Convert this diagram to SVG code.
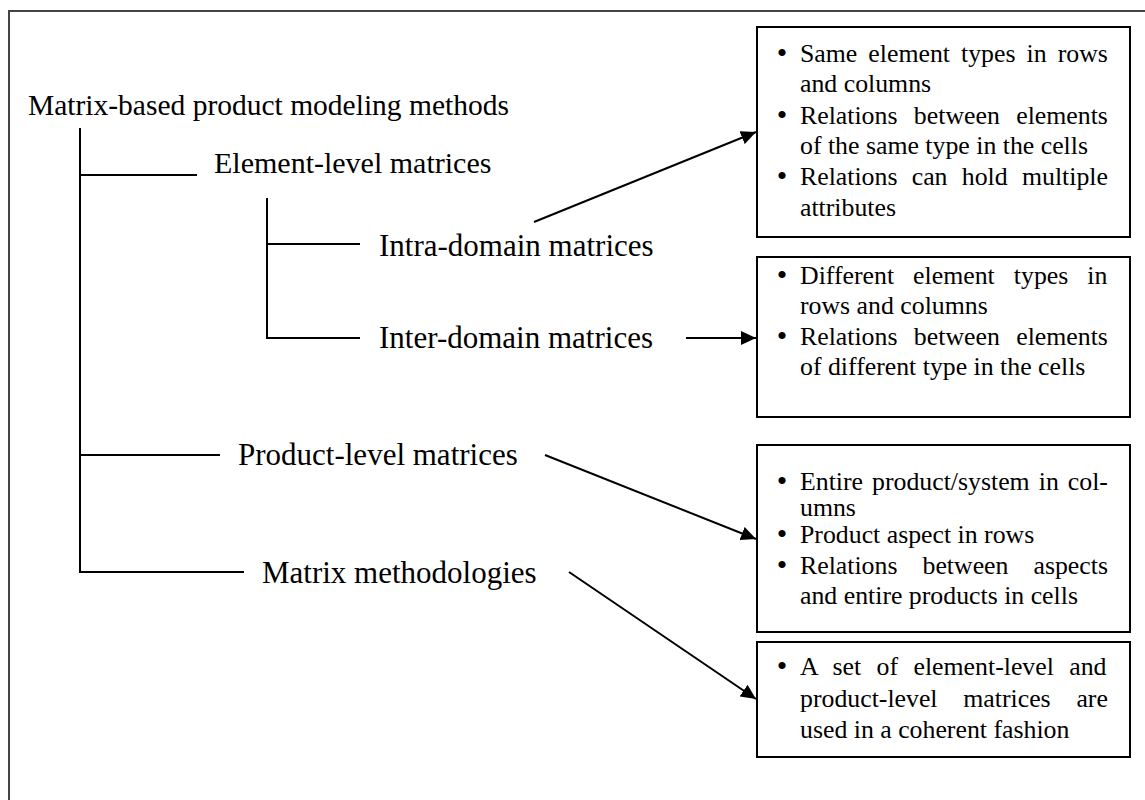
<svg xmlns="http://www.w3.org/2000/svg" width="1145" height="800" viewBox="0 0 1145 800">
  <defs>
    <marker id="arrow" markerUnits="userSpaceOnUse" markerWidth="16" markerHeight="14" refX="15" refY="7" orient="auto">
      <path d="M0,0 L15,7 L0,14 Z" fill="#000"/>
    </marker>
    <style>
      .frame { fill: none; stroke: #444; stroke-width: 2; }
      .tree { fill: none; stroke: #000; stroke-width: 2; }
      .conn { fill: none; stroke: #000; stroke-width: 2; marker-end: url(#arrow); }
      .box { fill: #fff; stroke: #000; stroke-width: 2; }
      .lbl { font-family: "Liberation Serif", "Times New Roman", serif; fill: #000; }
      .big { font-size: 31px; }
      .note { font-size: 25.8px; }
      .dot { font-family: "Liberation Serif", "Times New Roman", serif; font-size: 30px; fill: #000; text-anchor: middle; }
    </style>
  </defs>

  <rect width="1145" height="800" fill="#fff"/>
  <!-- outer page frame, running past the right and bottom edges -->
  <rect class="frame" x="9" y="11" width="1160" height="820"/>

  <!-- tree branches -->
  <g id="tree-lines">
    <line class="tree" x1="80" y1="128" x2="80" y2="573"/>
    <line class="tree" x1="79" y1="175" x2="197" y2="175"/>
    <line class="tree" x1="79" y1="455" x2="220" y2="455"/>
    <line class="tree" x1="79" y1="572" x2="244" y2="572"/>
    <line class="tree" x1="267" y1="198" x2="267" y2="339"/>
    <line class="tree" x1="266" y1="244" x2="360" y2="244"/>
    <line class="tree" x1="266" y1="338" x2="360" y2="338"/>
  </g>

  <g id="root">
    <text class="lbl" x="28" y="115" font-size="29.5">Matrix-based product modeling methods</text>
  </g>
  <g id="element-level">
    <text class="lbl" x="214" y="173" font-size="30">Element-level matrices</text>
  </g>
  <g id="intra-domain">
    <text class="lbl big" x="379" y="256">Intra-domain matrices</text>
  </g>
  <g id="inter-domain">
    <text class="lbl big" x="379" y="348">Inter-domain matrices</text>
  </g>
  <g id="product-level">
    <text class="lbl big" x="238" y="465">Product-level matrices</text>
  </g>
  <g id="methodologies">
    <text class="lbl big" x="262" y="583">Matrix methodologies</text>
  </g>

  <!-- description boxes -->
  <g id="box-intra">
    <rect class="box" x="757" y="27" width="373" height="210"/>
    <text class="dot" x="782" y="63">•</text>
    <text class="lbl note" x="800" y="62" word-spacing="4.6">Same element types in rows</text>
    <text class="lbl note" x="800" y="92">and columns</text>
    <text class="dot" x="782" y="125">•</text>
    <text class="lbl note" x="800" y="124" word-spacing="9.97">Relations between elements</text>
    <text class="lbl note" x="800" y="154">of the same type in the cells</text>
    <text class="dot" x="782" y="186">•</text>
    <text class="lbl note" x="800" y="185" word-spacing="7.83">Relations can hold multiple</text>
    <text class="lbl note" x="800" y="216">attributes</text>
  </g>

  <g id="box-inter">
    <rect class="box" x="757" y="257" width="373" height="160"/>
    <text class="dot" x="782" y="285">•</text>
    <text class="lbl note" x="800" y="284" word-spacing="12.6">Different element types in</text>
    <text class="lbl note" x="800" y="314">rows and columns</text>
    <text class="dot" x="782" y="346">•</text>
    <text class="lbl note" x="800" y="345" word-spacing="9.97">Relations between elements</text>
    <text class="lbl note" x="800" y="375">of different type in the cells</text>
  </g>

  <g id="box-product">
    <rect class="box" x="757" y="445" width="373" height="187"/>
    <text class="dot" x="782" y="491">•</text>
    <text class="lbl note" x="800" y="490" word-spacing="2.58">Entire product/system in col-</text>
    <text class="lbl note" x="800" y="516">umns</text>
    <text class="dot" x="782" y="544">•</text>
    <text class="lbl note" x="800" y="543">Product aspect in rows</text>
    <text class="dot" x="782" y="575">•</text>
    <text class="lbl note" x="800" y="574" word-spacing="18.6">Relations between aspects</text>
    <text class="lbl note" x="800" y="604">and entire products in cells</text>
  </g>

  <g id="box-method">
    <rect class="box" x="757" y="642" width="373" height="115"/>
    <text class="dot" x="782" y="676">•</text>
    <text class="lbl note" x="800" y="675" word-spacing="8.93">A set of element-level and</text>
    <text class="lbl note" x="800" y="707" word-spacing="19.3">product-level matrices are</text>
    <text class="lbl note" x="800" y="738">used in a coherent fashion</text>
  </g>

  <!-- arrows from the tree labels to their descriptions -->
  <g id="connectors">
    <line class="conn" x1="534" y1="222" x2="756" y2="132"/>
    <line class="conn" x1="686" y1="338" x2="756" y2="338"/>
    <line class="conn" x1="545" y1="455" x2="756" y2="539"/>
    <line class="conn" x1="569" y1="572" x2="756" y2="699"/>
  </g>
</svg>
